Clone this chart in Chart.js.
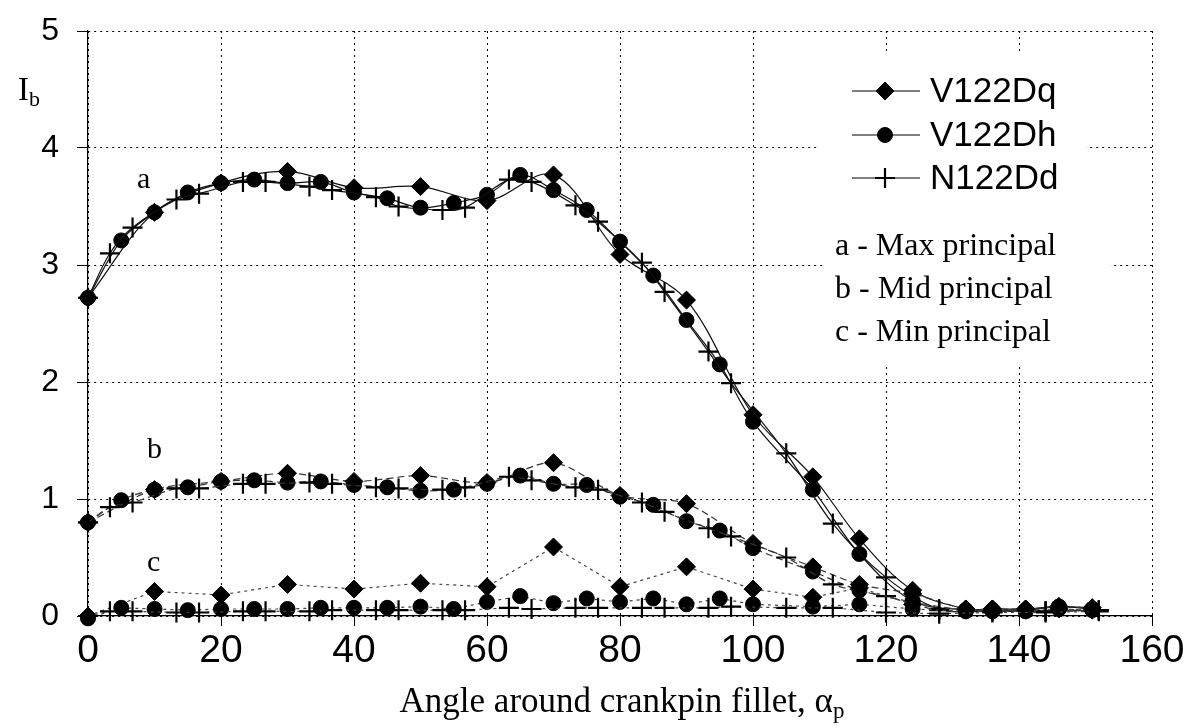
<!DOCTYPE html>
<html>
<head>
<meta charset="utf-8">
<script src="https://cdn.jsdelivr.net/npm/chart.js@4.4.1/dist/chart.umd.min.js"></script>
<style>
  body { margin: 0; background: #fff; }
  #wrap { width: 1189px; height: 728px; }
</style>
</head>
<body>
<div id="wrap"><canvas id="myChart" width="1189" height="728"></canvas></div>
<script>
// angles (deg) where each model has nodes
const dqAngles = [0, 10, 20, 30, 40, 50, 60, 70, 80, 90, 100, 109, 116, 124, 132, 136, 141, 146, 151];
const dhAngles = [0, 5, 10, 15, 20, 25, 30, 35, 40, 45, 50, 55, 60, 65, 70, 75, 80, 85, 90, 95, 100,
                  109, 116, 124, 132, 136, 141, 146, 151];
const ndAngles = [0, 3.3, 6.7, 13.3, 16.7, 23.3, 26.7, 33.3, 36.7, 43.3, 46.7, 53.3, 56.7, 63.3, 66.7,
                  73.3, 76.7, 83.3, 86.7, 93.3, 96.7, 105, 112, 120, 128, 136, 144, 152];

// V122Dq (diamonds)
const dqMax = [2.72, 3.45, 3.70, 3.80, 3.66, 3.67, 3.55, 3.77, 3.09, 2.70, 1.72, 1.19, 0.66, 0.22, 0.06, 0.06, 0.06, 0.08, 0.07];
const dqMid = [0.80, 1.08, 1.15, 1.22, 1.15, 1.20, 1.14, 1.31, 1.03, 0.96, 0.62, 0.42, 0.27, 0.19, 0.06, 0.06, 0.06, 0.08, 0.07];
const dqMin = [0.00, 0.21, 0.18, 0.27, 0.23, 0.28, 0.25, 0.59, 0.25, 0.42, 0.23, 0.16, 0.24, 0.10, 0.05, 0.05, 0.05, 0.06, 0.05];

// V122Dh (circles)
const dhMax = [2.72, 3.21, 3.45, 3.62, 3.70, 3.73, 3.70, 3.71, 3.62, 3.57, 3.49, 3.53, 3.60, 3.77, 3.64, 3.47, 3.20, 2.91, 2.53, 2.15, 1.66,
               1.08, 0.53, 0.13, 0.05, 0.05, 0.05, 0.08, 0.06];
const dhMid = [0.80, 0.99, 1.08, 1.10, 1.15, 1.16, 1.14, 1.15, 1.12, 1.10, 1.07, 1.08, 1.13, 1.20, 1.13, 1.12, 1.02, 0.95, 0.81, 0.73, 0.58,
               0.38, 0.22, 0.12, 0.05, 0.05, 0.05, 0.08, 0.06];
const dhMin = [-0.02, 0.07, 0.06, 0.05, 0.06, 0.06, 0.06, 0.07, 0.07, 0.07, 0.08, 0.06, 0.12, 0.17, 0.11, 0.15, 0.12, 0.15, 0.10, 0.15, 0.10,
               0.08, 0.10, 0.06, 0.04, 0.04, 0.04, 0.06, 0.05];

// N122Dd (crosses)
const ndMax = [2.72, 3.10, 3.32, 3.56, 3.61, 3.71, 3.71, 3.67, 3.64, 3.58, 3.50, 3.47, 3.49, 3.73, 3.71, 3.51, 3.37, 3.02, 2.77, 2.26, 1.99,
               1.39, 0.79, 0.33, 0.06, 0.04, 0.04, 0.05];
const ndMid = [0.80, 0.93, 0.97, 1.09, 1.09, 1.13, 1.13, 1.14, 1.13, 1.10, 1.09, 1.08, 1.10, 1.19, 1.16, 1.10, 1.08, 0.97, 0.89, 0.75, 0.68,
               0.50, 0.27, 0.17, 0.05, 0.04, 0.04, 0.05];
const ndMin = [0.00, 0.04, 0.04, 0.03, 0.03, 0.04, 0.04, 0.04, 0.05, 0.05, 0.05, 0.05, 0.05, 0.07, 0.06, 0.07, 0.07, 0.07, 0.07, 0.07, 0.08,
               0.07, 0.07, 0.03, 0.02, 0.03, 0.03, 0.04];

const xTicks = [0, 20, 40, 60, 80, 100, 120, 140, 160];
const yTicks = [0, 1, 2, 3, 4, 5];

const seriesNames = ['V122Dq', 'V122Dh', 'N122Dd'];
const curveNotes = ['a - Max principal', 'b - Mid principal', 'c - Min principal'];

function pts(xs, ys) {
  return xs.map(function (x, i) { return { x: x, y: ys[i] }; });
}

// marker style per model
const marks = {
  dq: { pointStyle: 'rectRot', pointRadius: 9, pointBorderWidth: 1, pointBackgroundColor: '#000' },
  dh: { pointStyle: 'circle', pointRadius: 7.5, pointBorderWidth: 1, pointBackgroundColor: '#000' },
  nd: { pointStyle: 'cross', pointRadius: 10, pointBorderWidth: 2.2, pointBackgroundColor: '#000' }
};
// line style per curve (a, b, c)
const lines = {
  a: { borderDash: [], tension: 0.35, borderColor: '#111' },
  b: { borderDash: [7, 4], tension: 0.3, borderColor: '#333' },
  c: { borderDash: [3, 4], tension: 0, borderColor: '#444' }
};

function ds(label, xs, ys, m, l) {
  return Object.assign({
    label: label,
    data: pts(xs, ys),
    borderWidth: 1.2,
    pointBorderColor: '#000',
    clip: false
  }, marks[m], lines[l]);
}

const datasets = [
  ds('N122Dd c', ndAngles, ndMin, 'nd', 'c'),
  ds('V122Dh c', dhAngles, dhMin, 'dh', 'c'),
  ds('V122Dq c', dqAngles, dqMin, 'dq', 'c'),
  ds('N122Dd b', ndAngles, ndMid, 'nd', 'b'),
  ds('V122Dh b', dhAngles, dhMid, 'dh', 'b'),
  ds('V122Dq b', dqAngles, dqMid, 'dq', 'b'),
  ds('N122Dd a', ndAngles, ndMax, 'nd', 'a'),
  ds('V122Dh a', dhAngles, dhMax, 'dh', 'a'),
  ds('V122Dq a', dqAngles, dqMax, 'dq', 'a')
];

const SANS = '"Liberation Sans", Arial, sans-serif';
const SERIF = '"Liberation Serif", "Times New Roman", serif';

function drawMark(ctx, style, x, y) {
  const m = marks[style];
  ctx.save();
  ctx.fillStyle = '#000';
  ctx.strokeStyle = '#000';
  ctx.lineWidth = m.pointBorderWidth;
  Chart.helpers.drawPoint(ctx, { pointStyle: m.pointStyle, radius: m.pointRadius, borderWidth: m.pointBorderWidth, rotation: 0 }, x, y);
  ctx.restore();
}

const annotate = {
  id: 'annotate',
  beforeDatasetsDraw(chart) {
    // white legend boxes hide the grid behind them
    const ctx = chart.ctx;
    ctx.save();
    ctx.fillStyle = '#fff';
    ctx.fillRect(818, 55, 268, 152);
    ctx.fillRect(825, 210, 285, 157);
    ctx.restore();
  },
  afterDraw(chart) {
    const ctx = chart.ctx;
    ctx.save();
    ctx.fillStyle = '#000';

    // legend rows
    const keys = ['dq', 'dh', 'nd'];
    const rowY = [91, 135, 178];
    keys.forEach(function (k, i) {
      ctx.strokeStyle = '#000';
      ctx.lineWidth = 1.2;
      ctx.setLineDash([]);
      ctx.beginPath();
      ctx.moveTo(852, rowY[i]);
      ctx.lineTo(920, rowY[i]);
      ctx.stroke();
      drawMark(ctx, k, 885, rowY[i]);
      ctx.fillStyle = '#000';
      ctx.font = '35px ' + SANS;
      ctx.textAlign = 'left';
      ctx.textBaseline = 'middle';
      ctx.fillText(seriesNames[i], 930, rowY[i] + 1);
    });

    ctx.font = '32px ' + SERIF;
    ctx.textBaseline = 'alphabetic';
    ctx.textAlign = 'left';
    curveNotes.forEach(function (t, i) {
      ctx.fillText(t, 835, 255 + i * 43);
    });

    // curve labels
    ctx.font = '30px ' + SERIF;
    ctx.fillText('a', 137, 188);
    ctx.fillText('b', 147, 458);
    ctx.fillText('c', 147, 571);

    // y axis label I_b
    ctx.font = '33px ' + SERIF;
    ctx.fillText('I', 18, 100);
    ctx.font = '22px ' + SERIF;
    ctx.fillText('b', 29, 106);

    // x axis title
    const main = 'Angle around crankpin fillet, \u03b1';
    ctx.font = '35px ' + SERIF;
    const w1 = ctx.measureText(main).width;
    ctx.font = '23px ' + SERIF;
    const w2 = ctx.measureText('p').width;
    const x0 = 622 - (w1 + w2) / 2;
    ctx.font = '35px ' + SERIF;
    ctx.fillText(main, x0, 712);
    ctx.font = '23px ' + SERIF;
    ctx.fillText('p', x0 + w1, 718);
    ctx.restore();
  }
};

const config = {
  type: 'line',
  data: { datasets: datasets },
  options: {
    responsive: false,
    animation: false,
    layout: { padding: { top: 31, right: 37, left: 0, bottom: 0 } },
    plugins: { legend: { display: false }, tooltip: { enabled: false } },
    scales: {
      x: {
        type: 'linear',
        min: 0,
        max: 160,
        afterBuildTicks: function (s) { s.ticks = xTicks.map(function (v) { return { value: v }; }); },
        afterFit: function (s) { s.height = 112; },
        ticks: { color: '#000', font: { family: SANS, size: 39 }, padding: 2, maxRotation: 0 },
        grid: { color: '#000', lineWidth: 1, tickLength: 10, tickBorderDash: [], tickColor: '#000' },
        border: { display: true, color: '#000', width: 1.2, dash: [2, 4] }
      },
      y: {
        min: 0,
        max: 5,
        afterBuildTicks: function (s) { s.ticks = yTicks.map(function (v) { return { value: v }; }); },
        afterFit: function (s) { s.width = 88; },
        // small lineHeight keeps the top label from pushing the plot area down
        ticks: { color: '#000', font: { family: SANS, size: 32, lineHeight: 0.5 }, padding: 18 },
        grid: { color: '#000', lineWidth: 1, tickLength: 11, tickBorderDash: [], tickColor: '#000' },
        border: { display: true, color: '#000', width: 1.2, dash: [2, 4] }
      }
    }
  },
  plugins: [annotate]
};

/* render */
const myChart = new Chart(document.getElementById('myChart'), config);
</script>
</body>
</html>
